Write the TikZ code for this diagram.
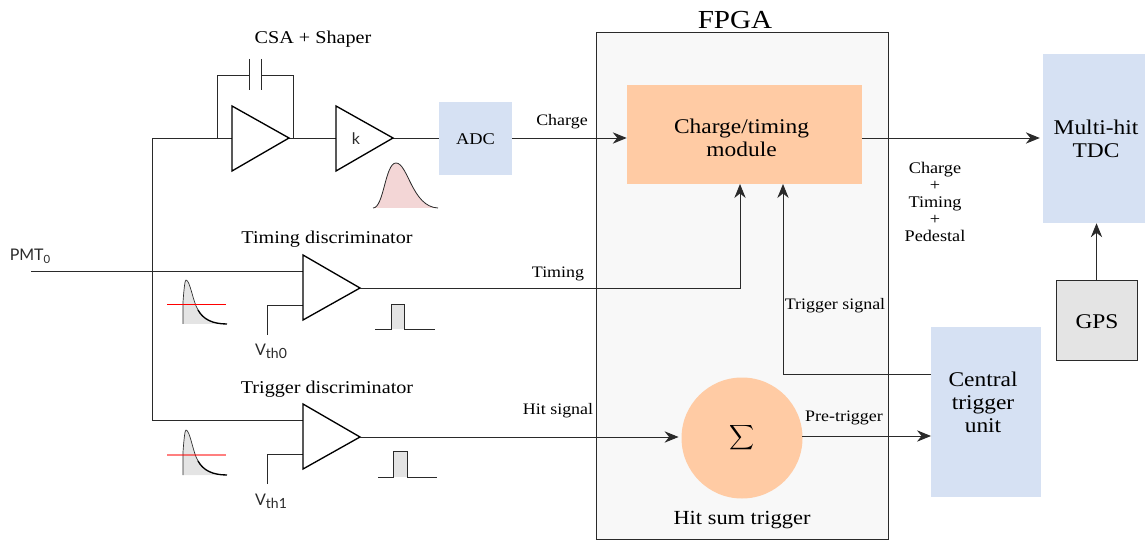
\documentclass[tikz,border=0pt]{standalone}
\usepackage{fontspec}
\setmainfont[FakeStretch=1.12]{Liberation Serif}
\newfontfamily\lightsans{Lato}
\usetikzlibrary{arrows.meta}
\definecolor{bluebox}{HTML}{D6E1F3}
\definecolor{orangebox}{HTML}{FFCBA4}
\definecolor{fpgafill}{HTML}{F8F8F8}
\definecolor{greybox}{HTML}{E4E4E4}
\definecolor{pinkfill}{HTML}{F3D6D6}
\definecolor{linegrey}{HTML}{2A2A2A}
\newcommand{\pxw}[1]{#1*0.75pt}
\tikzset{
  x=0.75pt,y=-0.75pt,
  wire/.style={line width=0.72pt,draw=linegrey},
  arrowwire/.style={wire,-{Stealth[length=10.5pt,width=8.5pt]}},
  amp/.style={line width=1pt,draw=black,fill=white,line join=miter},
  blockbox/.style={inner sep=0pt,align=center,font=\fontsize{15.7}{17.2}\selectfont,text=black},
  smalllabel/.style={inner sep=0pt,align=center,font=\fontsize{12}{13}\selectfont},
  midlabel/.style={inner sep=0pt,align=center,font=\fontsize{13.5}{15}\selectfont},
  sanslabel/.style={inner sep=0pt,font=\lightsans\fontsize{12}{13}\selectfont,text=linegrey},
  pulseline/.style={line width=0.65pt,draw=linegrey},
}
\begin{document}
\begin{tikzpicture}
\useasboundingbox (0,0) rectangle (1145,541);

% boxes
\node[blockbox,draw=linegrey,line width=0.72pt,fill=fpgafill,minimum width={\pxw{292}},minimum height={\pxw{507}}] (fpga) at (742,285.5) {};
\node[blockbox,fill=orangebox,minimum width={\pxw{235}},minimum height={\pxw{99}}] (module) at (744.5,134.5) {};
\node[blockbox] (moduletext) at (741.5,137.5) {Charge/timing\\module};
\node[blockbox,fill=bluebox,minimum width={\pxw{73}},minimum height={\pxw{73}},font=\fontsize{12.3}{13}\selectfont] (adc) at (475.5,139) {ADC};
\node[blockbox,fill=bluebox,minimum width={\pxw{102}},minimum height={\pxw{169}}] (tdc) at (1094,138.5) {};
\node[blockbox] (tdctext) at (1096,138.5) {Multi-hit\\TDC};
\node[blockbox,fill=greybox,draw=linegrey,line width=0.72pt,minimum width={\pxw{81}},minimum height={\pxw{80}}] (gps) at (1096.5,320.5) {};
\node[blockbox] (gpstext) at (1097,321.5) {GPS};
\node[blockbox,fill=bluebox,minimum width={\pxw{110}},minimum height={\pxw{170}}] (ctu) at (986,412) {};
\node[blockbox] (ctutext) at (983,402) {Central\\trigger\\unit};
\node[circle,fill=orangebox,inner sep=0pt,minimum size={\pxw{121}}] (sum) at (742,438) {\scalebox{1.3}{$\displaystyle\sum$}};

% amplifiers
\coordinate (csaTL) at (232,106); \coordinate (csaBL) at (232,171); \coordinate (csaT) at (289,138);
\coordinate (csaIn) at (232,138);
\coordinate (kTL) at (336,106); \coordinate (kBL) at (336,171); \coordinate (kT) at (393,138);
\coordinate (kIn) at (336,138);
\coordinate (tdTL) at (303,255); \coordinate (tdBL) at (303,320); \coordinate (tdT) at (360,288);
\coordinate (tdIn) at (303,271); \coordinate (tdRef) at (303,305);
\coordinate (hdTL) at (303,404); \coordinate (hdBL) at (303,469); \coordinate (hdT) at (360,437);
\coordinate (hdIn) at (303,420); \coordinate (hdRef) at (303,454);

% wires
\coordinate (pmtStart) at (31,271);
\coordinate (busTop) at (152,138);
\coordinate (busBot) at (152,420);
\coordinate (fbL) at (217,138);
\coordinate (fbR) at (293,138);
\coordinate (capL) at (249,75);
\coordinate (capR) at (261,75);
\coordinate (capLt) at (249,59); \coordinate (capLb) at (249,90);
\coordinate (capRt) at (261,59); \coordinate (capRb) at (261,90);
\coordinate (vthA) at (267,335);
\coordinate (vthB) at (267,484);

\draw[wire] (pmtStart) -- (tdIn);
\draw[wire] (busBot) -- (busTop) -- (csaIn);
\draw[wire] (busBot) -- (hdIn);
\draw[wire] (fbL) |- (capL);
\draw[wire] (capR) -| (fbR);
\draw[wire] (capLt) -- (capLb);
\draw[wire] (capRt) -- (capRb);
\draw[wire] (csaT) -- (kIn);
\draw[wire] (kT) -- (kT -| adc.west);
\draw[wire] (vthA) |- (tdRef);
\draw[wire] (vthB) |- (hdRef);

\draw[amp] (csaTL) -- (csaT) -- (csaBL) -- cycle;
\draw[amp] (kTL) -- (kT) -- (kBL) -- cycle;
\draw[amp] (tdTL) -- (tdT) -- (tdBL) -- cycle;
\draw[amp] (hdTL) -- (hdT) -- (hdBL) -- cycle;
\node[sanslabel] (klabel) at (356,139) {k};

\draw[arrowwire] (kT -| adc.east) -- (kT -| module.west);
\draw[arrowwire] (kT -| module.east) -- ([xshift=-2.2pt]kT -| tdc.west);
\draw[arrowwire] (gps.north) -- (gps.north |- tdc.south);
\coordinate (timingIn) at (740,184);
\draw[arrowwire] (tdT) -| (timingIn);
\coordinate (trigIn) at (783,184);
\coordinate (ctuOut) at (931,374);
\draw[arrowwire] (ctuOut) -| (trigIn);
\draw[arrowwire] (hdT) -- ([xshift=-2pt,yshift=0.75pt]sum.west);
\coordinate (ctuIn) at (931,436);
\coordinate (sumOut) at (802,436);
\draw[arrowwire] (sumOut) -- (ctuIn);

% pulses
\fill[pinkfill] (373,208) .. controls (384,208) and (385,163) .. (396,163) .. controls (408,163) and (412,207) .. (438,208) -- cycle;
\draw[pulseline,line width=0.6pt] (373,208) .. controls (384,208) and (385,163) .. (396,163) .. controls (408,163) and (412,207) .. (438,208);

\foreach \b/\p/\r/\op/\rw in {324/280/304/1/0.6pt,475/430/455/0.5/1.1pt}{
  \fill[greybox] (183,\b) -- (183,\p+22) .. controls (184,\p+8) and (185,\p) .. (186,\p) .. controls (190,\p) and (193,\b-22) .. (198,\b-14) .. controls (203,\b-5) and (212,\b) .. (227,\b) -- cycle;
  \draw[pulseline,line width=0.5pt] (183,\b) -- (183,\p+22) .. controls (184,\p+8) and (185,\p) .. (186,\p) .. controls (190,\p) and (193,\b-22) .. (198,\b-14);
  \draw[line width=1pt,draw=black] (198,\b-14) .. controls (203,\b-5) and (212,\b) .. (227,\b);
  \draw[red,opacity=\op,line width=\rw] (167,\r) -- (226,\r);
}
\fill[greybox] (391,329) rectangle (404,304);
\draw[pulseline] (375,329) -- (391,329) -- (391,304) -- (404,304) -- (404,329) -- (435,329);
\fill[greybox] (393,477) rectangle (407,451);
\draw[pulseline] (378,477) -- (393,477) -- (393,451) -- (407,451) -- (407,477) -- (437,477);

% labels
\node[inner sep=0pt,font=\fontsize{19.5}{20}\selectfont] (fpgalabel) at (735,20) {FPGA};
\node[midlabel] (csalabel) at (313,39) {CSA + Shaper};
\node[midlabel] (tdlabel) at (327,239) {Timing discriminator};
\node[midlabel] (hdlabel) at (327,389) {Trigger discriminator};
\node[midlabel,font=\fontsize{15}{16}\selectfont] (hslabel) at (742,520) {Hit sum trigger};
\node[smalllabel] (chargelabel) at (562,122) {Charge};
\node[smalllabel] (timinglabel) at (558,274) {Timing};
\node[smalllabel] (hitlabel) at (558,411) {Hit signal};
\node[smalllabel] (prelabel) at (844,418) {Pre-trigger};
\node[smalllabel] (triglabel) at (835,306) {Trigger signal};
\node[smalllabel,font=\fontsize{12.2}{12.75}\selectfont] (sumlabel) at (935,202) {Charge\\+\\Timing\\+\\Pedestal};
\node[sanslabel] (pmtlabel) at (30,256) {PMT\raisebox{-2pt}{\fontsize{8.5}{8.5}\selectfont 0}};
\node[sanslabel] (vthzero) at (271,351) {V\raisebox{-2pt}{\fontsize{10.5}{10.5}\selectfont th0}};
\node[sanslabel] (vthone) at (271,501) {V\raisebox{-2pt}{\fontsize{10.5}{10.5}\selectfont th1}};
\end{tikzpicture}
\end{document}
